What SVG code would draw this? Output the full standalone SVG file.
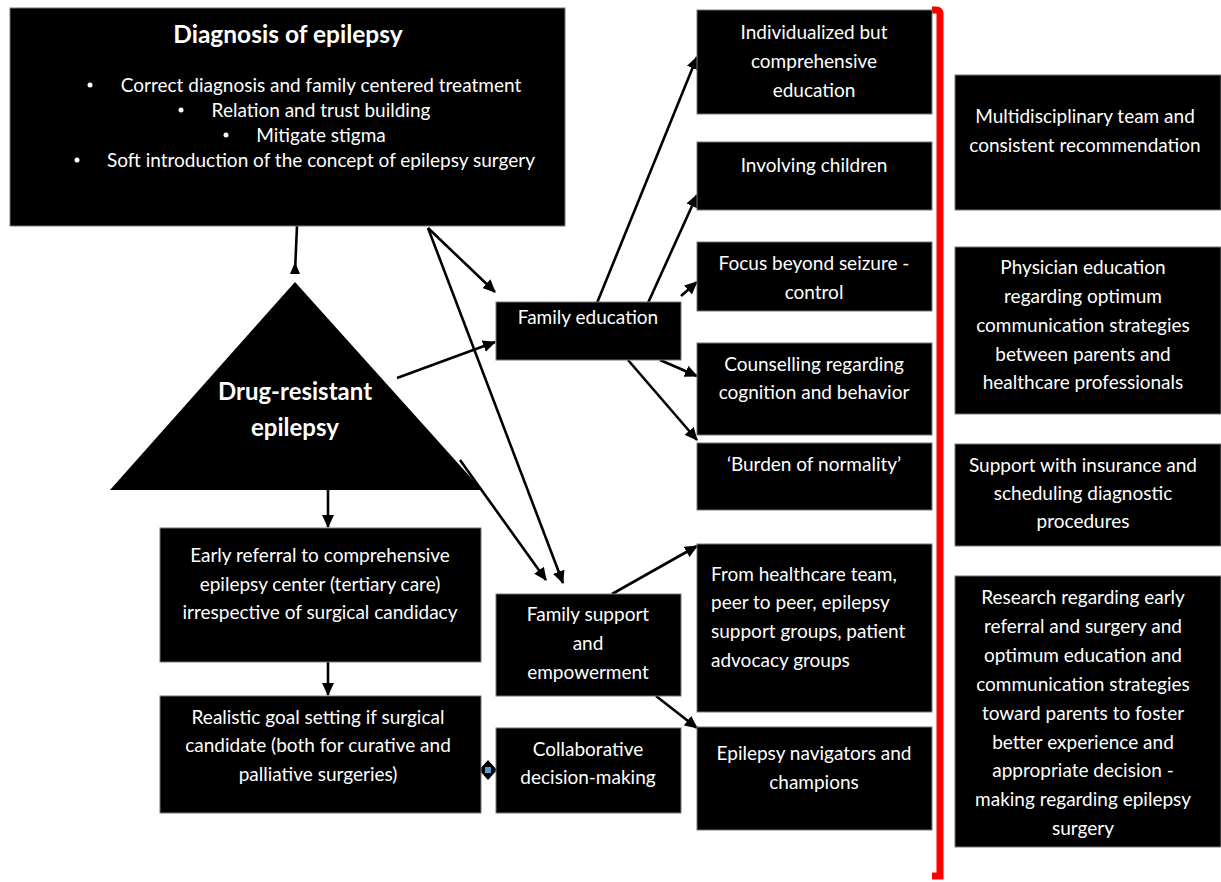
<svg xmlns="http://www.w3.org/2000/svg" width="1221" height="882" viewBox="0 0 1221 882">
<defs>
<marker id="ah" markerUnits="userSpaceOnUse" markerWidth="14" markerHeight="12" refX="12" refY="6" orient="auto">
<path d="M0,0 L13,6 L0,12 Z" fill="#000"/>
</marker>
<style>
.box{fill:#000;stroke:#777;stroke-width:1}
.t{font-family:Lato,"Open Sans","Liberation Sans",sans-serif;font-size:19px;fill:#fff;text-anchor:middle}
.tl{text-anchor:start}
.b{font-weight:bold;font-size:24.5px}
.c{stroke:#000;stroke-width:2.6;fill:none;marker-end:url(#ah)}
</style>
</defs>
<rect width="1221" height="882" fill="#fff"/>

<g id="connectors">
<line x1="297" y1="226" x2="295" y2="272" stroke="#000" stroke-width="2.6"/>
<path d="M295,262 L300,274 L290,274 Z" fill="#000"/>
<line class="c" x1="328" y1="478" x2="328" y2="527"/>
<line class="c" x1="328" y1="662" x2="328" y2="695"/>
<line class="c" x1="428" y1="228" x2="495" y2="292"/>
<line class="c" x1="428" y1="228" x2="563" y2="583"/>
<line class="c" x1="397" y1="378" x2="495" y2="342"/>
<line class="c" x1="460" y1="460" x2="546" y2="580"/>
<line class="c" x1="597" y1="303" x2="697" y2="57"/>
<line class="c" x1="648" y1="303" x2="697" y2="195"/>
<line class="c" x1="681" y1="296" x2="697" y2="282"/>
<line class="c" x1="660" y1="360" x2="697" y2="376"/>
<line class="c" x1="628" y1="360" x2="697" y2="440"/>
<line class="c" x1="612" y1="594" x2="697" y2="546"/>
<line class="c" x1="656" y1="696" x2="697" y2="728"/>
<path d="M932,10 L936,10 Q940,10 940,14 L940,876 L932,876" fill="none" stroke="#f00" stroke-width="7"/>
<g id="handle">
<path d="M488,760 L497,770 L488,780 L479,770 Z" fill="#000"/>
<rect x="485" y="767" width="6" height="6" fill="#5b9bd5"/>
</g>
</g>

<g id="diagnosis">
<rect class="box" x="10" y="8" width="555" height="218"/>
<text class="t b" x="288" y="43">Diagnosis of epilepsy</text>
<text class="t" x="321" y="92">Correct diagnosis and family centered treatment</text>
<text class="t" x="321" y="117">Relation and trust building</text>
<text class="t" x="321" y="142">Mitigate stigma</text>
<text class="t" x="321" y="167">Soft introduction of the concept of epilepsy surgery</text>
<g fill="#fff"><circle cx="90" cy="85" r="2.5"/><circle cx="181" cy="110" r="2.5"/><circle cx="226" cy="135" r="2.5"/><circle cx="77" cy="160" r="2.5"/></g>
</g>

<g id="drug-resistant">
<path d="M295,282 L482,490 L110,490 Z" fill="#000"/>
<text class="t b" x="295" y="400" style="font-size:24px">Drug-resistant</text>
<text class="t b" x="295" y="436" style="font-size:24px">epilepsy</text>
</g>

<g id="family-education">
<rect class="box" x="496" y="302" width="185" height="58"/>
<text class="t" x="588" y="324">Family education</text>
</g>

<g id="individualized">
<rect class="box" x="697" y="10" width="235" height="104"/>
<text class="t" x="814" y="39">Individualized but</text>
<text class="t" x="814" y="68">comprehensive</text>
<text class="t" x="814" y="97">education</text>
</g>
<g id="involving">
<rect class="box" x="697" y="142" width="235" height="68"/>
<text class="t" x="814" y="172">Involving children</text>
</g>
<g id="focus">
<rect class="box" x="697" y="242" width="235" height="69"/>
<text class="t" x="814" y="270">Focus beyond seizure -</text>
<text class="t" x="814" y="299">control</text>
</g>
<g id="counselling">
<rect class="box" x="697" y="343" width="235" height="92"/>
<text class="t" x="814" y="371">Counselling regarding</text>
<text class="t" x="814" y="399">cognition and behavior</text>
</g>
<g id="burden">
<rect class="box" x="697" y="443" width="235" height="67"/>
<text class="t" x="814" y="471">‘Burden of normality’</text>
</g>
<g id="from-healthcare">
<rect class="box" x="697" y="544" width="235" height="168"/>
<text class="t tl" x="711" y="581">From healthcare team,</text>
<text class="t tl" x="711" y="609">peer to peer, epilepsy</text>
<text class="t tl" x="711" y="638">support groups, patient</text>
<text class="t tl" x="711" y="667">advocacy groups</text>
</g>
<g id="navigators">
<rect class="box" x="697" y="727" width="235" height="103"/>
<text class="t" x="814" y="760">Epilepsy navigators and</text>
<text class="t" x="814" y="789">champions</text>
</g>

<g id="early-referral">
<rect class="box" x="160" y="528" width="321" height="134"/>
<text class="t" x="320" y="562">Early referral to comprehensive</text>
<text class="t" x="320" y="591">epilepsy center (tertiary care)</text>
<text class="t" x="320" y="619">irrespective of surgical candidacy</text>
</g>
<g id="realistic">
<rect class="box" x="160" y="696" width="321" height="117"/>
<text class="t" x="318" y="724">Realistic goal setting if surgical</text>
<text class="t" x="318" y="752">candidate (both for curative and</text>
<text class="t" x="318" y="781">palliative surgeries)</text>
</g>
<g id="family-support">
<rect class="box" x="496" y="594" width="185" height="102"/>
<text class="t" x="588" y="621">Family support</text>
<text class="t" x="588" y="650">and</text>
<text class="t" x="588" y="679">empowerment</text>
</g>
<g id="collaborative">
<rect class="box" x="496" y="728" width="185" height="85"/>
<text class="t" x="588" y="756">Collaborative</text>
<text class="t" x="588" y="784">decision-making</text>
</g>

<g id="multidisciplinary">
<rect class="box" x="955" y="75" width="266" height="135"/>
<text class="t" x="1085" y="123">Multidisciplinary team and</text>
<text class="t" x="1085" y="152">consistent recommendation</text>
</g>
<g id="physician">
<rect class="box" x="955" y="247" width="266" height="167"/>
<text class="t" x="1083" y="274">Physician education</text>
<text class="t" x="1083" y="303">regarding optimum</text>
<text class="t" x="1083" y="332">communication strategies</text>
<text class="t" x="1083" y="361">between parents and</text>
<text class="t" x="1083" y="389">healthcare professionals</text>
</g>
<g id="insurance">
<rect class="box" x="955" y="444" width="266" height="102"/>
<text class="t" x="1083" y="472">Support with insurance and</text>
<text class="t" x="1083" y="500">scheduling diagnostic</text>
<text class="t" x="1083" y="528">procedures</text>
</g>
<g id="research">
<rect class="box" x="955" y="576" width="266" height="271"/>
<text class="t" x="1083" y="604">Research regarding early</text>
<text class="t" x="1083" y="633">referral and surgery and</text>
<text class="t" x="1083" y="662">optimum education and</text>
<text class="t" x="1083" y="691">communication strategies</text>
<text class="t" x="1083" y="720">toward parents to foster</text>
<text class="t" x="1083" y="749">better experience and</text>
<text class="t" x="1083" y="777">appropriate decision -</text>
<text class="t" x="1083" y="806">making regarding epilepsy</text>
<text class="t" x="1083" y="835">surgery</text>
</g>
</svg>
